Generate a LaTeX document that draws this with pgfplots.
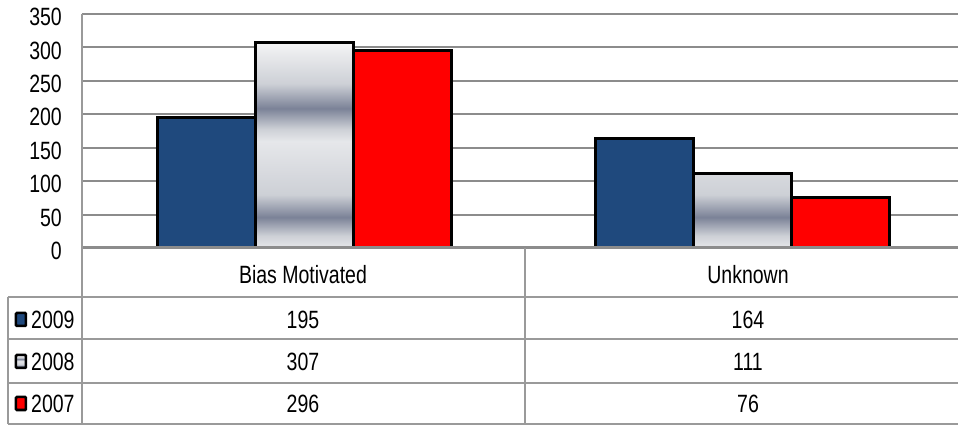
\documentclass[border=0pt]{standalone}
\usepackage{pgfplots}
\usepackage{pgfplotstable}
\pgfplotsset{compat=1.18}
\usepackage{fontspec}
\setmainfont{Liberation Sans}[FakeStretch=0.78]

\definecolor{bar09}{HTML}{1F497D}
\definecolor{bar07}{HTML}{FF0000}
\definecolor{gridgray}{HTML}{8C8C8C}
\definecolor{tablegray}{HTML}{9A9A9A}
\definecolor{silA}{HTML}{F4F4F5}
\definecolor{silB}{HTML}{CDD0D6}
\definecolor{silC}{HTML}{7B8297}
\definecolor{silD}{HTML}{E6E7EA}

% silver bar fill, bottom (25bp) to top (75bp)
\pgfdeclareverticalshading{silver}{100bp}{%
  color(0bp)=(silD); color(25bp)=(silD); color(28bp)=(silB);
  color(32.5bp)=(silC); color(38bp)=(silB); color(51bp)=(silD);
  color(54bp)=(silB); color(59bp)=(silC); color(65bp)=(silB);
  color(75bp)=(silA); color(100bp)=(silA)}

\pgfplotstableread{
x      y2009 y2008 y2007
0.509  195   307   296
1.509  164   111   76
}\crimes

\newcommand{\cell}[2]{\pgfplotstablegetelem{#1}{#2}\of\crimes\pgfplotsretval}

\begin{document}
\begin{tikzpicture}[font=\fontsize{25}{29}\selectfont]
\useasboundingbox (-82pt,-177pt) rectangle (876pt,248pt);
\begin{axis}[
  at={(0pt,0pt)}, anchor=south west,
  scale only axis, width=876pt, height=234pt,
  xmin=0, xmax=2, ymin=0, ymax=350,
  ytick={0,50,...,350}, xtick=\empty,
  axis line style={draw=none},
  ymajorgrids, grid style={gridgray, line width=2pt},
  ytick style={draw=none},
  tick label style={font=\fontsize{25}{29}\selectfont},
  yticklabel style={anchor=east, inner sep=0pt, xshift=-20pt, yshift=-3pt},
  /pgf/number format/assume math mode=true,
  ybar=0pt, bar width=98pt,
  clip=false,
]
\addplot[draw=black, line width=3pt, fill=bar09] table[x=x, y=y2009] {\crimes};
\addplot[draw=black, line width=3pt, shading=silver] table[x=x, y=y2008] {\crimes};
\addplot[draw=black, line width=3pt, fill=bar07] table[x=x, y=y2007] {\crimes};
\draw[gridgray, line width=3pt] (axis cs:0,0) -- (axis cs:2,0);
\end{axis}

% data table below the plot
\begin{scope}[tablegray, line width=2pt]
  \foreach \yy in {-49,-91,-135,-176}
    \draw (-74pt,\yy pt) -- (876pt,\yy pt);
  \draw (-74pt,-49pt) -- (-74pt,-176pt);
  \draw (0pt,234pt) -- (0pt,-176pt);
  \draw (443pt,0pt) -- (443pt,-176pt);
\end{scope}

\node at (221pt,-27pt) {Bias Motivated};
\node at (666pt,-27pt) {Unknown};

\node at (221pt,-72pt) {\cell{0}{y2009}};
\node at (666pt,-72pt) {\cell{1}{y2009}};
\node at (221pt,-114pt) {\cell{0}{y2008}};
\node at (666pt,-114pt) {\cell{1}{y2008}};
\node at (221pt,-156pt) {\cell{0}{y2007}};
\node at (666pt,-156pt) {\cell{1}{y2007}};

% legend keys
\filldraw[fill=bar09, draw=black, line width=2.5pt, rounded corners=1pt] (-66pt,-78pt) rectangle (-56pt,-65pt);
\shade[shading=silver] (-66pt,-120pt) rectangle (-56pt,-107pt);
\draw[black, line width=2.5pt, rounded corners=1pt] (-66pt,-120pt) rectangle (-56pt,-107pt);
\filldraw[fill=bar07, draw=black, line width=2.5pt, rounded corners=1pt] (-66pt,-162pt) rectangle (-56pt,-149pt);
\node[anchor=west, inner sep=0pt] at (-51pt,-72pt) {2009};
\node[anchor=west, inner sep=0pt] at (-51pt,-114pt) {2008};
\node[anchor=west, inner sep=0pt] at (-51pt,-156pt) {2007};
\end{tikzpicture}
\end{document}
